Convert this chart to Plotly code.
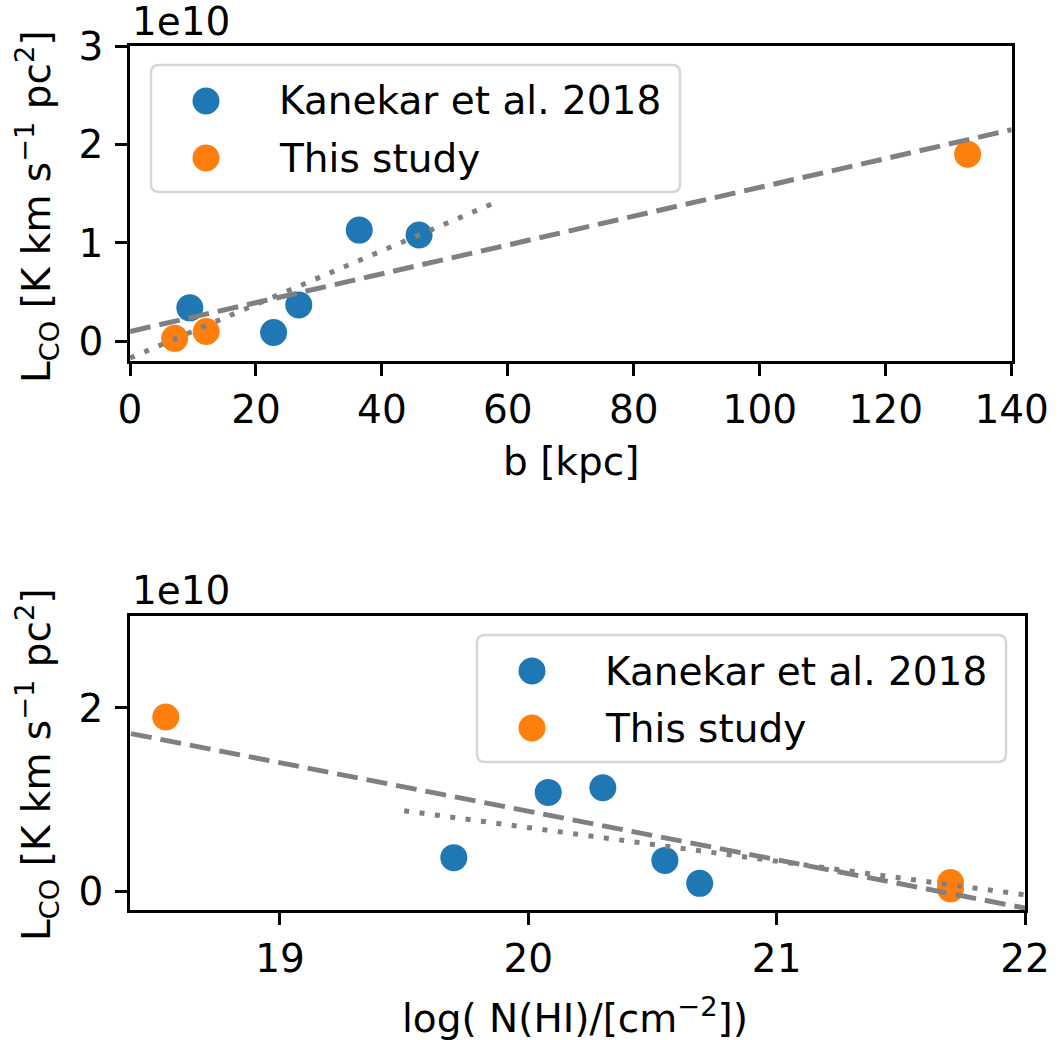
import plotly.graph_objects as go

W, H = 1062, 1040

# ---------------- data ----------------
kanekar_b = [9.5, 22.8, 26.8, 36.4, 45.9]
kanekar_L = [0.34e10, 0.09e10, 0.37e10, 1.13e10, 1.08e10]
kanekar_NHI = [20.55, 20.69, 19.70, 20.30, 20.08]

this_b = [7.1, 12.1, 133.0]
this_L = [0.03e10, 0.10e10, 1.90e10]
this_NHI = [21.70, 21.70, 18.54]

fit_all_b_x = [0, 140]
fit_all_b_y = [0.10e10, 2.15e10]
fit_kan_b_x = [0, 58]
fit_kan_b_y = [-0.17e10, 1.41e10]

fit_all_nhi_x = [18.40, 22.0]
fit_all_nhi_y = [1.72e10, -0.18e10]
fit_kan_nhi_x = [19.5, 22.0]
fit_kan_nhi_y = [0.88e10, -0.035e10]

top_xticks = [0, 20, 40, 60, 80, 100, 120, 140]
top_yticks = [0, 1e10, 2e10, 3e10]
top_yticktext = ["0", "1", "2", "3"]
bot_xticks = [19, 20, 21, 22]
bot_yticks = [0, 2e10]
bot_yticktext = ["0", "2"]

legend_labels = ["Kanekar et al. 2018", "This study"]

BLUE = "#1f77b4"
ORANGE = "#ff7f0e"
GREY = "#808080"
FONT = "DejaVu Sans"
FS = 39


def px(x):
    return x / W


def py(y):
    return 1 - y / H


fig = go.Figure()

# scatter points
fig.add_trace(go.Scatter(x=kanekar_b, y=kanekar_L, mode="markers",
                         marker=dict(color=BLUE, size=27), name=legend_labels[0],
                         xaxis="x", yaxis="y", showlegend=False))
fig.add_trace(go.Scatter(x=this_b, y=this_L, mode="markers",
                         marker=dict(color=ORANGE, size=27), name=legend_labels[1],
                         xaxis="x", yaxis="y", showlegend=False))
fig.add_trace(go.Scatter(x=kanekar_NHI, y=kanekar_L, mode="markers",
                         marker=dict(color=BLUE, size=27), name=legend_labels[0],
                         xaxis="x2", yaxis="y2", showlegend=False))
fig.add_trace(go.Scatter(x=this_NHI, y=this_L, mode="markers",
                         marker=dict(color=ORANGE, size=27), name=legend_labels[1],
                         xaxis="x2", yaxis="y2", showlegend=False))

# fit lines (drawn on top)
DASH = "21px,9px"
DOT = "5px,10.5px"
fig.add_trace(go.Scatter(x=fit_all_b_x, y=fit_all_b_y, mode="lines",
                         line=dict(color=GREY, width=5, dash=DASH),
                         xaxis="x", yaxis="y", showlegend=False))
fig.add_trace(go.Scatter(x=fit_kan_b_x, y=fit_kan_b_y, mode="lines",
                         line=dict(color=GREY, width=5, dash=DOT),
                         xaxis="x", yaxis="y", showlegend=False))
fig.add_trace(go.Scatter(x=fit_all_nhi_x, y=fit_all_nhi_y, mode="lines",
                         line=dict(color=GREY, width=5, dash=DASH),
                         xaxis="x2", yaxis="y2", showlegend=False))
fig.add_trace(go.Scatter(x=fit_kan_nhi_x, y=fit_kan_nhi_y, mode="lines",
                         line=dict(color=GREY, width=5, dash=DOT),
                         xaxis="x2", yaxis="y2", showlegend=False))

axis_common = dict(showline=True, mirror=True, linecolor="black", linewidth=2.5,
                   ticks="outside", ticklen=12, tickwidth=2.5, tickcolor="black",
                   showgrid=False, zeroline=False, automargin=False,
                   tickfont=dict(family=FONT, size=FS, color="black"))

fig.update_layout(
    width=W, height=H,
    margin=dict(l=0, r=0, t=0, b=0),
    paper_bgcolor="white", plot_bgcolor="white",
    font=dict(family=FONT, size=FS, color="black"),
    showlegend=False,
    xaxis=dict(domain=[px(130), px(1011.7)], anchor="y", range=[0, 140],
               tickvals=top_xticks, **axis_common),
    yaxis=dict(domain=[py(361), py(46)], anchor="x", range=[-0.2e10, 3e10],
               tickvals=top_yticks, ticktext=top_yticktext, ticklabelstandoff=4,
               **axis_common),
    xaxis2=dict(domain=[px(130), px(1025)], anchor="y2", range=[18.396, 22],
                tickvals=bot_xticks, **axis_common),
    yaxis2=dict(domain=[py(910), py(616)], anchor="x2", range=[-0.2e10, 3e10],
                tickvals=bot_yticks, ticktext=bot_yticktext, ticklabelstandoff=4,
                **axis_common),
)

annotations = []


def txt(text, x, y, xanchor="center", yanchor="middle", angle=0):
    annotations.append(dict(text=text, x=px(x), y=py(y), xref="paper", yref="paper",
                            xanchor=xanchor, yanchor=yanchor, showarrow=False,
                            textangle=angle, font=dict(family=FONT, size=FS, color="black")))


ylab = "L<sub>CO</sub> [K km s<sup>\u22121</sup> pc<sup>2</sup>]"
txt("1e10", 130, 21, xanchor="left")
txt("1e10", 130, 590, xanchor="left")
txt("b [kpc]", 571, 461)
txt("log( N(HI)/[cm<sup>\u22122</sup>])", 575, 1016)
txt(ylab, 37, 207, angle=-90)
txt(ylab, 37, 765, angle=-90)

shapes = []


def legend_box(x0, y0, x1, y1, r=8):
    path = (f"M {px(x0 + r)},{py(y0)} L {px(x1 - r)},{py(y0)} "
            f"Q {px(x1)},{py(y0)} {px(x1)},{py(y0 + r)} "
            f"L {px(x1)},{py(y1 - r)} Q {px(x1)},{py(y1)} {px(x1 - r)},{py(y1)} "
            f"L {px(x0 + r)},{py(y1)} Q {px(x0)},{py(y1)} {px(x0)},{py(y1 - r)} "
            f"L {px(x0)},{py(y0 + r)} Q {px(x0)},{py(y0)} {px(x0 + r)},{py(y0)} Z")
    shapes.append(dict(type="path", path=path, xref="paper", yref="paper",
                       line=dict(color="#d6d6d6", width=2.5),
                       fillcolor="rgba(255,255,255,0.8)", layer="above"))


def legend_marker(cx, cy, color, d=27):
    shapes.append(dict(type="circle", xref="paper", yref="paper",
                       x0=px(cx - d / 2), x1=px(cx + d / 2),
                       y0=py(cy + d / 2), y1=py(cy - d / 2),
                       fillcolor=color, line=dict(width=0), layer="above"))


def legend(x0, y0):
    legend_box(x0, y0, x0 + 529, y0 + 127)
    rows = [y0 + 36, y0 + 93]
    for lab, col, yy in zip(legend_labels, [BLUE, ORANGE], rows):
        legend_marker(x0 + 55, yy, col)
        txt(lab, x0 + 126, yy, xanchor="left")


legend(151, 65)
legend(477, 635)

fig.update_layout(annotations=annotations, shapes=shapes)

# remove the default 8px page margin so the figure fills the window exactly
fig.write_html("out.html",
               config={"displayModeBar": False},
               post_script="document.body.style.margin='0';document.body.style.overflow='hidden';")
